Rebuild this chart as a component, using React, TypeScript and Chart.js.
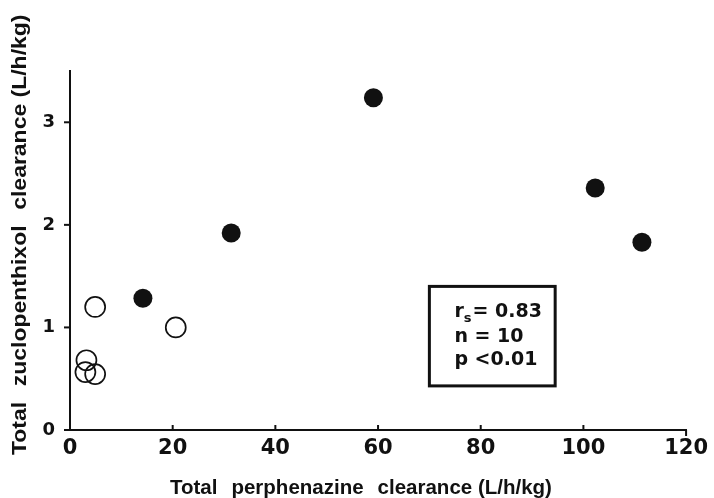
import React, { useEffect, useRef } from "react";
import { Chart, registerables } from "chart.js";

Chart.register(...registerables);

// ---- data ----
const xTicks = [0, 20, 40, 60, 80, 100, 120];
const yTicks = [0, 1, 2, 3];
const filledX = [14.2, 31.4, 59.1, 102.3, 111.4];
const filledY = [1.285, 1.92, 3.24, 2.36, 1.83];
const openX = [4.9, 20.6, 3.2, 3.0, 4.9];
const openY = [1.2, 1.0, 0.68, 0.565, 0.545];
const xTitleParts = ["Total", "perphenazine", "clearance (L/h/kg)"];
const yTitleParts = ["Total", "zuclopenthixol", "clearance (L/h/kg)"];
const statMain = ["r", "n = 10", "p <0.01"];
const statSub = "s";
const statRest = "= 0.83";

// ---- placement / style ----
const BOX = { x0: 70, x1: 94.5, y0: 1.4, y1: 0.43 };
const INK = "#111";
const TITLE_FONT = 'bold 20.5px "Liberation Sans", Arial, sans-serif';
const TICK_FONT_FAMILY = '"DejaVu Sans", "Liberation Sans", sans-serif';

function drawParts(ctx: CanvasRenderingContext2D, parts: string[], x: number, y: number, gap: number) {
  let cx = x;
  parts.forEach((p) => {
    ctx.fillText(p, cx, y);
    cx += ctx.measureText(p).width + gap;
  });
}

const decorPlugin = {
  id: "decor",
  afterDraw(chart: any) {
    const { ctx, chartArea, scales } = chart;
    const x = scales.x;
    const y = scales.y;
    ctx.save();
    ctx.strokeStyle = INK;
    ctx.fillStyle = INK;
    ctx.lineWidth = 2;
    // tick marks
    xTicks.forEach((v, i) => {
      const px = x.getPixelForValue(v);
      ctx.beginPath();
      if (i === xTicks.length - 1) {
        ctx.moveTo(px, chartArea.bottom);
        ctx.lineTo(px, chartArea.bottom + 6);
      } else {
        ctx.moveTo(px, chartArea.bottom);
        ctx.lineTo(px, chartArea.bottom - 5);
      }
      ctx.stroke();
    });
    yTicks.forEach((v) => {
      const py = y.getPixelForValue(v);
      ctx.beginPath();
      ctx.moveTo(chartArea.left, py);
      ctx.lineTo(chartArea.left - 6, py);
      ctx.stroke();
    });

    // axis titles
    ctx.font = TITLE_FONT;
    ctx.textAlign = "left";
    ctx.textBaseline = "alphabetic";
    drawParts(ctx, xTitleParts, 170, 494, 14);

    ctx.save();
    ctx.translate(26, 455);
    ctx.rotate(-Math.PI / 2);
    ctx.scale(1.12, 1.0);
    drawParts(ctx, yTitleParts, 0, 0, 14);
    ctx.restore();

    // stats box
    const bx0 = x.getPixelForValue(BOX.x0);
    const bx1 = x.getPixelForValue(BOX.x1);
    const by0 = y.getPixelForValue(BOX.y0);
    const by1 = y.getPixelForValue(BOX.y1);
    ctx.lineWidth = 3;
    ctx.strokeRect(bx0, by0, bx1 - bx0, by1 - by0);
    const tx = bx0 + 25;
    ctx.font = `bold 19px ${TICK_FONT_FAMILY}`;
    ctx.fillText(statMain[0], tx, by0 + 31);
    const rw = ctx.measureText(statMain[0]).width;
    ctx.font = `bold 13px ${TICK_FONT_FAMILY}`;
    ctx.fillText(statSub, tx + rw, by0 + 36);
    const sw = ctx.measureText(statSub).width;
    ctx.font = `bold 19px ${TICK_FONT_FAMILY}`;
    ctx.fillText(statRest, tx + rw + sw + 1, by0 + 31);
    ctx.fillText(statMain[1], tx, by0 + 56);
    ctx.fillText(statMain[2], tx, by0 + 79);
    ctx.restore();
  },
};

export default function App() {
  const ref = useRef<HTMLCanvasElement | null>(null);
  useEffect(() => {
    document.body.style.margin = "0";
    if (!ref.current) return;
    const chart = new Chart(ref.current, {
      type: "scatter",
      data: {
        datasets: [
          {
            label: "filled",
            data: filledX.map((v, i) => ({ x: v, y: filledY[i] })),
            backgroundColor: INK,
            borderColor: INK,
            borderWidth: 0,
            pointRadius: 9.5,
          },
          {
            label: "open",
            data: openX.map((v, i) => ({ x: v, y: openY[i] })),
            backgroundColor: "rgba(255,255,255,0)",
            borderColor: INK,
            borderWidth: 1.7,
            pointRadius: 10,
          },
        ],
      },
      options: {
        animation: false,
        responsive: false,
        events: [],
        layout: { padding: { top: 71, right: 24.5, left: 0, bottom: 0 } },
        plugins: { legend: { display: false }, tooltip: { enabled: false } },
        scales: {
          x: {
            type: "linear",
            min: 0,
            max: 120,
            grid: { display: false, drawTicks: false },
            border: { display: true, color: INK, width: 2 },
            ticks: {
              padding: 6,
              color: INK,
              font: { family: TICK_FONT_FAMILY, size: 21, weight: "bold" },
            },
            afterBuildTicks: (s: any) => {
              s.ticks = xTicks.map((v) => ({ value: v }));
            },
            afterFit: (s: any) => {
              s.height = 68;
            },
          },
          y: {
            type: "linear",
            min: 0,
            max: 3.5,
            grid: { display: false, drawTicks: false },
            border: { display: true, color: INK, width: 2 },
            ticks: {
              padding: 15,
              color: INK,
              font: { family: TICK_FONT_FAMILY, size: 18, weight: "bold" },
            },
            afterBuildTicks: (s: any) => {
              s.ticks = yTicks.map((v) => ({ value: v }));
            },
            afterFit: (s: any) => {
              s.width = 70;
            },
          },
        },
      },
      plugins: [decorPlugin],
    });
    return () => chart.destroy();
  }, []);
  return (
    <div style={{ width: 714, height: 498 }}>
      <canvas ref={ref} width={714} height={498} />
    </div>
  );
}
